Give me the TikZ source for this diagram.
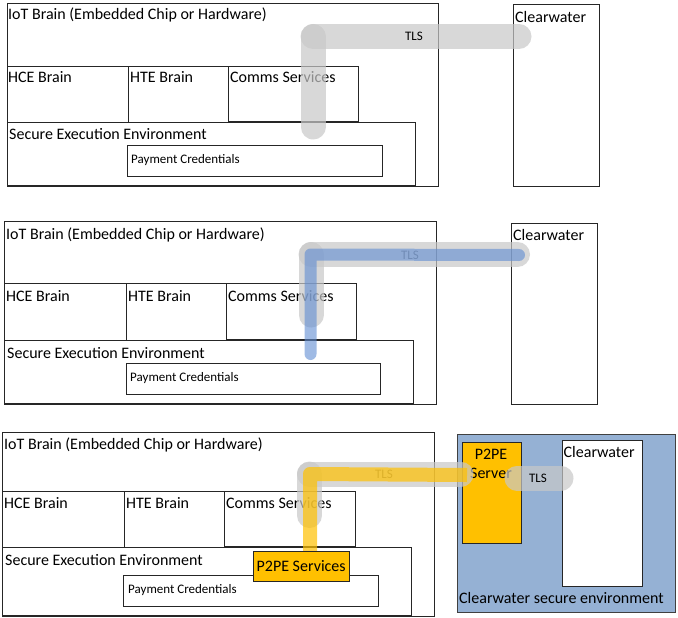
\documentclass[tikz,border=0pt]{standalone}
\usepackage{fontspec}
\setmainfont{Carlito}
\definecolor{tlsgray}{RGB}{200,200,200}
\definecolor{tlsblue}{RGB}{95,140,210}
\definecolor{ppeorange}{RGB}{255,192,0}
\definecolor{envblue}{RGB}{149,177,212}
\begin{document}
\begin{tikzpicture}[x=1pt,y=-1pt,
  box/.style={draw=black!85, line width=0.8pt, anchor=north west, inner sep=0pt},
  lbl/.style={anchor=west, inner sep=0pt, font=\fontsize{16}{19}\selectfont},
  small/.style={inner sep=0pt, font=\fontsize{13}{15}\selectfont},
  graypipe/.style={line width=25pt, line cap=round, draw=tlsgray, draw opacity=0.7},
  bluepipe/.style={line width=12pt, line cap=round, line join=round, draw=tlsblue, draw opacity=0.6},
  orangepipe/.style={line width=14pt, line join=round, draw=ppeorange, draw opacity=0.7}]
  \useasboundingbox (0,0) rectangle (678,618);
  \node[box, minimum width=431.5, minimum height=182.8] (iot1) at (6.5,2.7) {};
  \node[box, minimum width=86, minimum height=181.2] (cw1) at (513,4.3) {};
  \node[box, minimum width=121.5, minimum height=56] (hce1) at (6.5,65.7) {};
  \node[box, minimum width=100, minimum height=56] (hte1) at (128,65.7) {};
  \node[box, minimum width=130, minimum height=55] (comms1) at (228,65.7) {};
  \node[box, minimum width=408.5, minimum height=62.7] (see1) at (6.5,122.3) {};
  \node[box, minimum width=255, minimum height=30.7] (pay1) at (127,145) {};
  \node[lbl] (iot1t) at (8,15) {IoT Brain (Embedded Chip or Hardware)};
  \node[lbl] (cw1t) at (515,17) {Clearwater};
  \node[lbl] (hce1t) at (8,77) {HCE Brain};
  \node[lbl] (hte1t) at (130,77) {HTE Brain};
  \node[lbl] (comms1t) at (230,77) {Comms Services};
  \node[lbl] (see1t) at (9,134) {Secure Execution Environment};
  \node[small, anchor=west] (pay1t) at (131,160) {Payment Credentials};
  \coordinate (a1) at (313,127);
  \coordinate (b1) at (313,36.5);
  \coordinate (c1) at (519,36.5);
  \draw[graypipe] (b1) -- (c1);
  \draw[graypipe] (a1) -- (b1);
  \node[small] (tls1) at (414,36.5) {TLS};

  \node[box, minimum width=431.2, minimum height=183.3] (iot2) at (4.3,220.7) {};
  \node[box, minimum width=85.5, minimum height=181.3] (cw2) at (511,222.7) {};
  \node[box, minimum width=121.7, minimum height=56.7] (hce2) at (4.3,283.3) {};
  \node[box, minimum width=100, minimum height=56.7] (hte2) at (126,283.3) {};
  \node[box, minimum width=130, minimum height=55.4] (comms2) at (226,283.3) {};
  \node[box, minimum width=408.7, minimum height=62.7] (see2) at (4.3,340) {};
  \node[box, minimum width=254.5, minimum height=30.7] (pay2) at (125.5,363.3) {};
  \node[lbl] (iot2t) at (6,235) {IoT Brain (Embedded Chip or Hardware)};
  \node[lbl] (cw2t) at (513,235) {Clearwater};
  \node[lbl] (hce2t) at (6,295.7) {HCE Brain};
  \node[lbl] (hte2t) at (128,295.7) {HTE Brain};
  \node[lbl] (comms2t) at (228,295.7) {Comms Services};
  \node[lbl] (see2t) at (7,353.3) {Secure Execution Environment};
  \node[small, anchor=west] (pay2t) at (130,378.3) {Payment Credentials};
  \node[small] (tls2) at (410,255) {TLS};
  \coordinate (a2) at (311,315);
  \coordinate (b2) at (311,254.5);
  \coordinate (c2) at (517.5,254.5);
  \coordinate (d2) at (310.5,354);
  \coordinate (e2) at (519,255);
  \draw[graypipe] (b2) -- (c2);
  \draw[graypipe] (a2) -- (b2);
  \draw[bluepipe] (d2) -- (b2 -| d2) -- (e2);

  \node[box, minimum width=432, minimum height=183.4] (iot3) at (2,432.3) {};
  \node[box, draw=black!75, fill=envblue, minimum width=218, minimum height=177.4] (env3) at (457,434.3) {};
  \node[box, fill=ppeorange, minimum width=59, minimum height=101.6] (srv3) at (462,441.7) {};
  \node[box, fill=white, minimum width=80, minimum height=145.4] (cw3) at (561.5,440.3) {};
  \node[box, minimum width=122, minimum height=56] (hce3) at (2,490.7) {};
  \node[box, minimum width=100, minimum height=56] (hte3) at (124,490.7) {};
  \node[box, minimum width=131, minimum height=55.3] (comms3) at (224,490.7) {};
  \node[box, minimum width=409, minimum height=68.3] (see3) at (2,546.7) {};
  \node[box, minimum width=255, minimum height=30.7] (pay3) at (123,575) {};
  \node[lbl] (iot3t) at (4,445) {IoT Brain (Embedded Chip or Hardware)};
  \node[lbl] (hce3t) at (4,503.3) {HCE Brain};
  \node[lbl] (hte3t) at (126,503.3) {HTE Brain};
  \node[lbl] (comms3t) at (226,503.3) {Comms Services};
  \node[lbl] (see3t) at (5,560) {Secure Execution Environment};
  \node[small, anchor=west] (pay3t) at (128,590) {Payment Credentials};
  \node[lbl, anchor=center, align=center, font=\fontsize{16}{19}\selectfont] (srv3t) at (491,464) {P2PE\\Server};
  \node[lbl] (cw3t) at (563.5,452.3) {Clearwater};
  \node[lbl] (env3t) at (459,598) {Clearwater secure environment};
  \node[small] (tls3) at (384,474) {TLS};
  \coordinate (a3) at (309.5,515.5);
  \coordinate (b3) at (309.5,474);
  \coordinate (c3) at (461,474);
  \coordinate (d3) at (310,551);
  \coordinate (e3) at (467,475);
  \coordinate (f3) at (517,478);
  \coordinate (g3) at (561,478);
  \draw[graypipe] (b3) -- (c3);
  \draw[graypipe] (a3) -- (b3);
  \draw[orangepipe] (d3) -- (b3 -| d3) -- (e3);
  \draw[graypipe] (f3) -- (g3);
  \node[small] (tls4) at (538,478) {TLS};
  \node[box, fill=ppeorange, minimum width=95.5, minimum height=29.7] (ppe3) at (253,551) {};
  \node[lbl, anchor=center] (ppe3t) at (ppe3.center) {P2PE Services};
\end{tikzpicture}
\end{document}
